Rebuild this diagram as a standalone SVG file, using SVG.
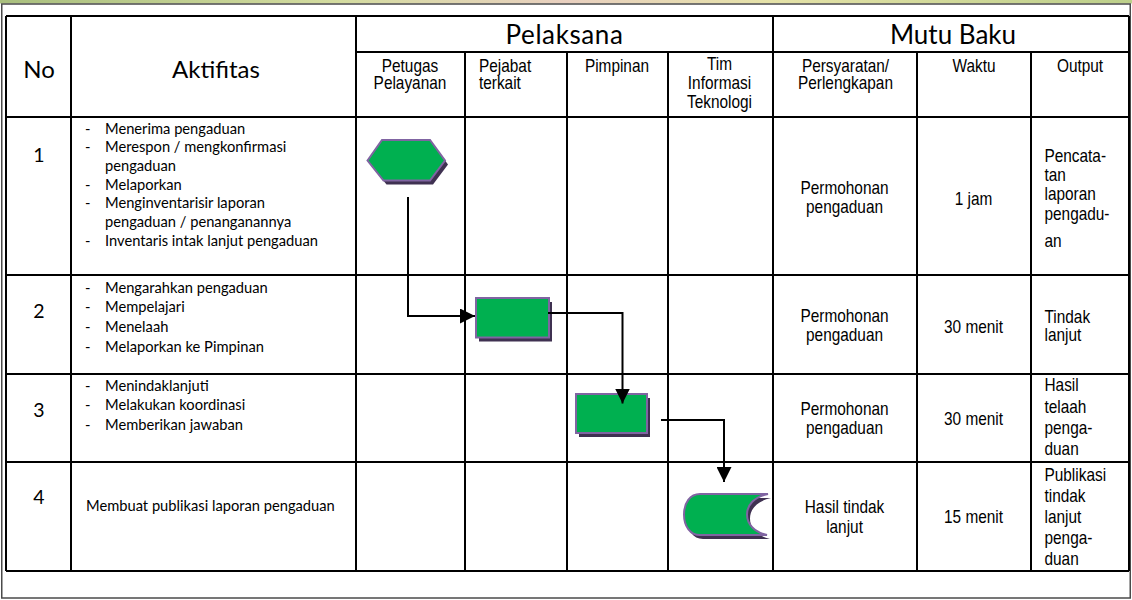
<svg xmlns="http://www.w3.org/2000/svg" width="1132" height="600" viewBox="0 0 1132 600">
<defs>
<linearGradient id="band" x1="0" y1="0" x2="1" y2="0">
<stop offset="0" stop-color="#a9bf7e"/>
<stop offset="0.3" stop-color="#d4dca0"/>
<stop offset="0.5" stop-color="#e9d0c0"/>
<stop offset="0.68" stop-color="#e5e2a8"/>
<stop offset="1" stop-color="#bccf8a"/>
</linearGradient>
<marker id="arrow" viewBox="0 0 15 15" refX="15" refY="7.5" markerWidth="15" markerHeight="15" markerUnits="userSpaceOnUse" orient="auto">
<path d="M0,0 L15,7.5 L0,15 Z" fill="#000"/>
</marker>
</defs>
<style>
.grid{stroke:#000;stroke-width:2;fill:none}
.frame{stroke:#4a4a4a;stroke-width:1.5;fill:none}
.hd{font-family:Lato,"Open Sans","Liberation Sans",sans-serif;font-size:26px;fill:#000;text-anchor:middle}
.hs{font-size:24px}
.num{font-family:Lato,"Open Sans","Liberation Sans",sans-serif;font-size:19.5px;fill:#000;text-anchor:middle}
.act{font-family:Lato,"Open Sans","Liberation Sans",sans-serif;font-size:14.7px;fill:#000}
.ar{font-family:"Liberation Sans",Arial,sans-serif;font-size:17.5px;fill:#000}
.mid{text-anchor:middle}
.shadow{fill:#3f3151}
.shape{fill:#00b050;stroke:#8064a2;stroke-width:2}
.conn{stroke:#000;stroke-width:2;fill:none}
</style>
<rect width="1132" height="600" fill="#fff"/>
<rect x="0" y="0" width="1132" height="3.5" fill="url(#band)"/>
<rect class="frame" x="1.75" y="4" width="1128.5" height="594"/>

<g id="table">
<path class="grid" d="M6,16 H1129 M356,52 H1129 M6,117 H1129 M6,275 H1129 M6,374 H1129 M6,462 H1129 M6,571 H1129 M6,16 V571 M71,16 V571 M356,16 V571 M773,16 V571 M1129,16 V571 M465,52 V571 M567,52 V571 M668,52 V571 M917,52 V571 M1031,52 V571"/>
</g>

<g id="header">
<text class="hd hs" x="39" y="78">No</text>
<text class="hd hs" x="216" y="78">Aktifitas</text>
<text class="hd" x="564.5" y="43.5" letter-spacing="0.6">Pelaksana</text>
<text class="hd" x="953" y="44">Mutu Baku</text>
<g class="ar" transform="scale(0.88 1)">
<text class="mid" x="465.9" y="72">Petugas</text>
<text class="mid" x="465.9" y="89.3">Pelayanan</text>
<text x="544.3" y="72">Pejabat</text>
<text x="544.3" y="89.3">terkait</text>
<text class="mid" x="701.1" y="72">Pimpinan</text>
<text class="mid" x="817.6" y="70.3">Tim</text>
<text class="mid" x="817.6" y="89.3">Informasi</text>
<text class="mid" x="817.6" y="108">Teknologi</text>
<text class="mid" x="960.8" y="72">Persyaratan/</text>
<text class="mid" x="960.8" y="89.3">Perlengkapan</text>
<text class="mid" x="1106.8" y="72">Waktu</text>
<text class="mid" x="1227.3" y="72">Output</text>
</g>
</g>

<g id="row1">
<text class="num" x="39" y="161.5">1</text>
<g class="act">
<text x="85" y="133.5">-</text><text x="105" y="133.5">Menerima pengaduan</text>
<text x="85" y="152.2">-</text><text x="105" y="152.2">Merespon / mengkonfirmasi</text>
<text x="105" y="170.9">pengaduan</text>
<text x="85" y="189.6">-</text><text x="105" y="189.6">Melaporkan</text>
<text x="85" y="208.3">-</text><text x="105" y="208.3">Menginventarisir laporan</text>
<text x="105" y="227">pengaduan / penanganannya</text>
<text x="85" y="245.7">-</text><text x="105" y="245.7">Inventaris intak lanjut pengaduan</text>
</g>
<g class="ar" transform="scale(0.88 1)">
<text class="mid" x="959.7" y="194">Permohonan</text>
<text class="mid" x="959.7" y="212.7">pengaduan</text>
<text class="mid" x="1106.3" y="205">1 jam</text>
<text x="1186.9" y="162">Pencata-</text>
<text x="1186.9" y="181">tan</text>
<text x="1186.9" y="200.3">laporan</text>
<text x="1186.9" y="219.6">pengadu-</text>
<text x="1186.9" y="247">an</text>
</g>
</g>

<g id="row2">
<text class="num" x="39" y="318">2</text>
<g class="act">
<text x="85" y="292.5">-</text><text x="105" y="292.5">Mengarahkan pengaduan</text>
<text x="85" y="312.2">-</text><text x="105" y="312.2">Mempelajari</text>
<text x="85" y="331.9">-</text><text x="105" y="331.9">Menelaah</text>
<text x="85" y="351.6">-</text><text x="105" y="351.6">Melaporkan ke Pimpinan</text>
</g>
<g class="ar" transform="scale(0.88 1)">
<text class="mid" x="959.7" y="322.3">Permohonan</text>
<text class="mid" x="959.7" y="341">pengaduan</text>
<text class="mid" x="1106.3" y="332.7">30 menit</text>
<text x="1186.9" y="323">Tindak</text>
<text x="1186.9" y="341.5">lanjut</text>
</g>
</g>

<g id="row3">
<text class="num" x="39" y="416.7">3</text>
<g class="act">
<text x="85" y="390.7">-</text><text x="105" y="390.7">Menindaklanjuti</text>
<text x="85" y="410.4">-</text><text x="105" y="410.4">Melakukan koordinasi</text>
<text x="85" y="430.1">-</text><text x="105" y="430.1">Memberikan jawaban</text>
</g>
<g class="ar" transform="scale(0.88 1)">
<text class="mid" x="959.7" y="415">Permohonan</text>
<text class="mid" x="959.7" y="434.3">pengaduan</text>
<text class="mid" x="1106.3" y="425">30 menit</text>
<text x="1186.9" y="391.5">Hasil</text>
<text x="1186.9" y="412.8">telaah</text>
<text x="1186.9" y="434.1">penga-</text>
<text x="1186.9" y="455.4">duan</text>
</g>
</g>

<g id="row4">
<text class="num" x="39" y="504">4</text>
<text class="act" x="86" y="511">Membuat publikasi laporan pengaduan</text>
<g class="ar" transform="scale(0.88 1)">
<text class="mid" x="959.7" y="513.3">Hasil tindak</text>
<text class="mid" x="959.7" y="533.3">lanjut</text>
<text class="mid" x="1106.3" y="523.3">15 menit</text>
<text x="1186.9" y="480.7">Publikasi</text>
<text x="1186.9" y="501.7">tindak</text>
<text x="1186.9" y="522.7">lanjut</text>
<text x="1186.9" y="543.7">penga-</text>
<text x="1186.9" y="564.7">duan</text>
</g>
</g>

<g id="node-start">
<polygon class="shadow" points="370.5,164.5 385,144 433,144 448,164.5 433,184.5 386.5,184.5"/>
<polygon class="shape" points="367.5,160.5 382,140 430,140 445,160.5 430,180.5 383.5,180.5"/>
</g>

<g id="node-pejabat">
<rect class="shadow" x="479" y="302" width="73" height="39.5"/>
<rect class="shape" x="476" y="298" width="73" height="39.5"/>
</g>

<g id="node-pimpinan">
<rect class="shadow" x="579" y="398" width="71" height="39"/>
<rect class="shape" x="576" y="394" width="71" height="39"/>
</g>

<g id="node-tim">
<path class="shadow" transform="translate(3 4)" d="M700,494 L768,494 C754,497 747,505 747,514.5 C747,524 754,532 767,535 L700,535 C690,535 684,526 684,514.5 C684,503 690,494 700,494 Z"/>
<path class="shape" d="M700,494 L768,494 C754,497 747,505 747,514.5 C747,524 754,532 767,535 L700,535 C690,535 684,526 684,514.5 C684,503 690,494 700,494 Z"/>
</g>

<g id="connectors">
<path class="conn" d="M408,197 V316 H475" marker-end="url(#arrow)"/>
<path class="conn" d="M548,313 H622.5 V403.5" marker-end="url(#arrow)"/>
<path class="conn" d="M661,420 H724 V482" marker-end="url(#arrow)"/>
</g>
</svg>
